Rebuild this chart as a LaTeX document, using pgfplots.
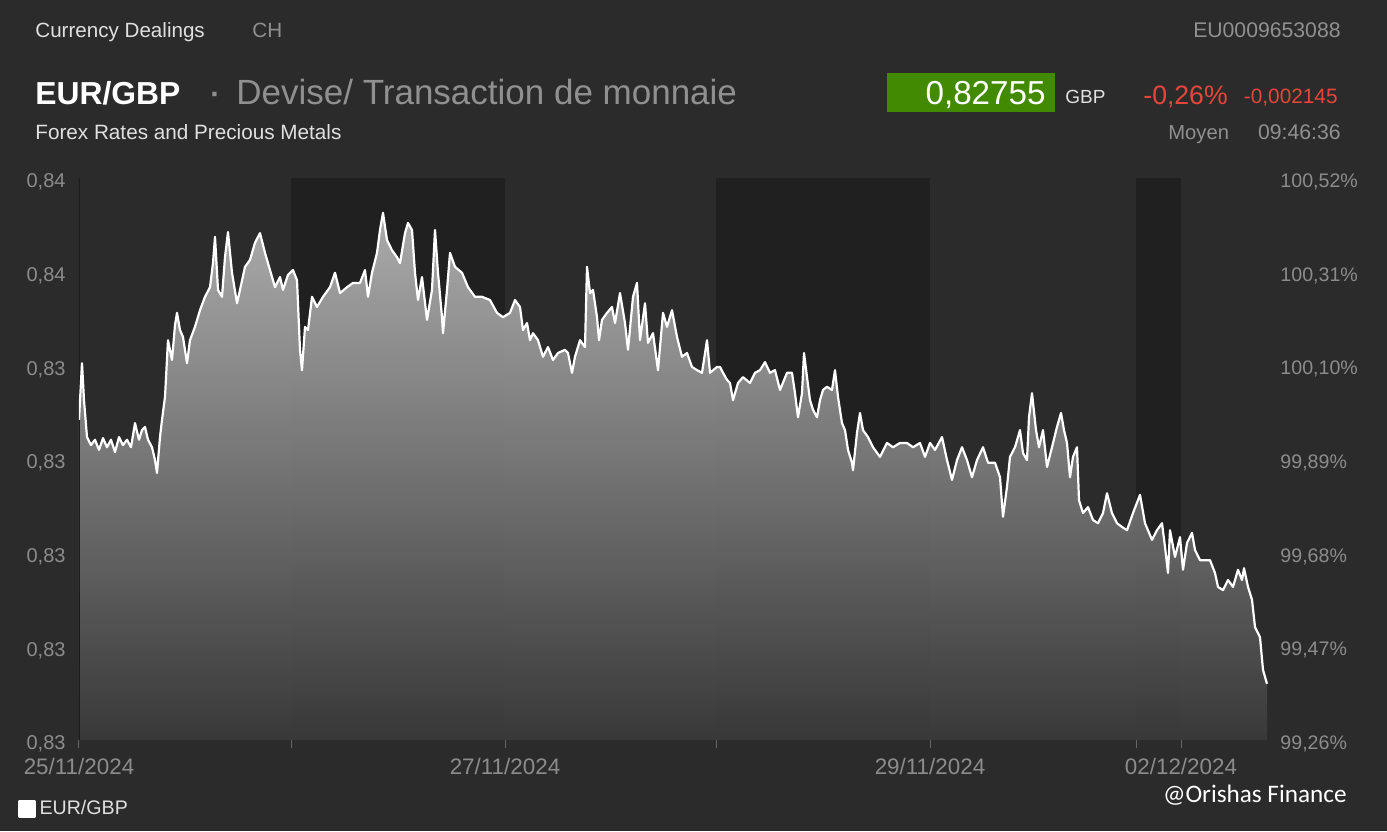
\documentclass[border=0pt]{standalone}
\usepackage{pgfplots}
\pgfplotsset{compat=1.18}
\usepackage{pgfplotstable}
\usepackage{fontspec}
\setmainfont{Liberation Sans}
\newfontfamily\wmfont{Carlito}
\definecolor{bg}{HTML}{2B2B2B}
\definecolor{tickgray}{HTML}{8C8C8C}
\definecolor{lighttext}{HTML}{E0E0E0}
\definecolor{titlegray}{HTML}{909090}
\definecolor{boxgreen}{HTML}{418A02}
\definecolor{downred}{HTML}{E8463A}
\definecolor{fillTop}{HTML}{B6B6B6}
\definecolor{fillMid}{HTML}{7E7E7E}
\definecolor{fillBot}{HTML}{3A3A3A}
\definecolor{axisdark}{HTML}{1C1C1C}
\definecolor{tickmark}{HTML}{666666}

\pgfplotstableread{
t v
0.0000 0.83248
0.0141 0.83354
0.0235 0.83285
0.0376 0.83216
0.0564 0.83201
0.0752 0.83211
0.0940 0.83192
0.1128 0.83214
0.1316 0.83197
0.1504 0.83211
0.1692 0.83188
0.1880 0.83216
0.2068 0.83201
0.2256 0.83211
0.2444 0.83197
0.2632 0.83242
0.2820 0.83211
0.2961 0.83229
0.3102 0.83235
0.3243 0.83211
0.3431 0.83197
0.3572 0.83173
0.3666 0.83149
0.3807 0.83216
0.3901 0.83248
0.4042 0.83291
0.4183 0.83397
0.4371 0.83360
0.4512 0.83425
0.4606 0.83448
0.4747 0.83416
0.4888 0.83403
0.5076 0.83354
0.5217 0.83397
0.5452 0.83422
0.5687 0.83453
0.5922 0.83478
0.6157 0.83496
0.6298 0.83541
0.6392 0.83590
0.6533 0.83491
0.6721 0.83478
0.6862 0.83552
0.7003 0.83599
0.7191 0.83523
0.7426 0.83466
0.7567 0.83491
0.7802 0.83534
0.8037 0.83547
0.8272 0.83579
0.8507 0.83597
0.8742 0.83560
0.8977 0.83528
0.9212 0.83496
0.9447 0.83515
0.9588 0.83491
0.9823 0.83519
1.0058 0.83528
1.0246 0.83509
1.0387 0.83379
1.0481 0.83341
1.0622 0.83422
1.0763 0.83416
1.0951 0.83478
1.1186 0.83459
1.1468 0.83478
1.1797 0.83496
1.2032 0.83523
1.2267 0.83485
1.2596 0.83496
1.2878 0.83504
1.3207 0.83504
1.3442 0.83528
1.3583 0.83478
1.3771 0.83523
1.4006 0.83560
1.4147 0.83603
1.4288 0.83635
1.4476 0.83584
1.4711 0.83565
1.4946 0.83552
1.5087 0.83541
1.5322 0.83597
1.5463 0.83616
1.5651 0.83603
1.5792 0.83523
1.5933 0.83472
1.6121 0.83515
1.6356 0.83435
1.6591 0.83491
1.6732 0.83603
1.6873 0.83523
1.7061 0.83440
1.7108 0.83410
1.7296 0.83491
1.7437 0.83560
1.7672 0.83534
1.8001 0.83523
1.8283 0.83496
1.8612 0.83478
1.8941 0.83478
1.9317 0.83472
1.9646 0.83448
1.9928 0.83440
2.0257 0.83448
2.0492 0.83472
2.0727 0.83459
2.0868 0.83416
2.1056 0.83429
2.1197 0.83397
2.1338 0.83410
2.1573 0.83397
2.1808 0.83366
2.2043 0.83384
2.2278 0.83360
2.2513 0.83373
2.2842 0.83379
2.2983 0.83373
2.3171 0.83336
2.3312 0.83366
2.3547 0.83397
2.3782 0.83384
2.3876 0.83534
2.4017 0.83485
2.4158 0.83491
2.4346 0.83440
2.4440 0.83397
2.4581 0.83435
2.4816 0.83448
2.5051 0.83459
2.5192 0.83429
2.5427 0.83485
2.5662 0.83429
2.5803 0.83379
2.6038 0.83478
2.6226 0.83504
2.6367 0.83397
2.6602 0.83466
2.6743 0.83392
2.6978 0.83410
2.7213 0.83341
2.7448 0.83448
2.7636 0.83422
2.7871 0.83453
2.8106 0.83403
2.8341 0.83366
2.8576 0.83373
2.8811 0.83347
2.9046 0.83341
2.9281 0.83336
2.9516 0.83397
2.9657 0.83336
2.9986 0.83347
3.0127 0.83347
3.0268 0.83336
3.0456 0.83323
3.0597 0.83317
3.0738 0.83285
3.0973 0.83317
3.1208 0.83328
3.1537 0.83317
3.1772 0.83336
3.2007 0.83341
3.2242 0.83356
3.2477 0.83336
3.2712 0.83341
3.2947 0.83304
3.3276 0.83336
3.3511 0.83336
3.3652 0.83298
3.3793 0.83253
3.3981 0.83298
3.4075 0.83373
3.4216 0.83328
3.4357 0.83285
3.4498 0.83267
3.4686 0.83253
3.4827 0.83285
3.4968 0.83304
3.5156 0.83310
3.5391 0.83304
3.5532 0.83341
3.5673 0.83291
3.5861 0.83242
3.6002 0.83229
3.6143 0.83192
3.6331 0.83168
3.6378 0.83154
3.6566 0.83224
3.6707 0.83261
3.6848 0.83229
3.7083 0.83216
3.7318 0.83197
3.7647 0.83179
3.7976 0.83205
3.8258 0.83197
3.8587 0.83205
3.8916 0.83205
3.9198 0.83197
3.9527 0.83205
3.9762 0.83179
3.9997 0.83205
4.0232 0.83192
4.0561 0.83216
4.0796 0.83173
4.1031 0.83136
4.1266 0.83173
4.1501 0.83197
4.1736 0.83173
4.1971 0.83141
4.2206 0.83173
4.2488 0.83197
4.2723 0.83168
4.3052 0.83168
4.3287 0.83141
4.3428 0.83067
4.3616 0.83123
4.3757 0.83179
4.3992 0.83197
4.4227 0.83229
4.4368 0.83186
4.4556 0.83173
4.4650 0.83253
4.4791 0.83298
4.4979 0.83229
4.5120 0.83197
4.5308 0.83229
4.5496 0.83160
4.5731 0.83197
4.5966 0.83235
4.6154 0.83261
4.6295 0.83229
4.6436 0.83205
4.6577 0.83141
4.6718 0.83179
4.6906 0.83197
4.7000 0.83098
4.7188 0.83074
4.7423 0.83085
4.7658 0.83061
4.7893 0.83055
4.8128 0.83074
4.8316 0.83111
4.8551 0.83074
4.8786 0.83055
4.9021 0.83048
4.9256 0.83042
4.9538 0.83074
4.9867 0.83108
5.0102 0.83055
5.0431 0.83024
5.0666 0.83042
5.0901 0.83055
5.1042 0.83011
5.1183 0.82962
5.1277 0.83042
5.1512 0.82992
5.1747 0.83029
5.1888 0.82968
5.2076 0.83018
5.2311 0.83037
5.2452 0.83005
5.2687 0.82986
5.2922 0.82986
5.3157 0.82986
5.3392 0.82962
5.3533 0.82936
5.3768 0.82930
5.4003 0.82949
5.4238 0.82936
5.4473 0.82968
5.4661 0.82949
5.4755 0.82971
5.4943 0.82936
5.5131 0.82912
5.5272 0.82861
5.5507 0.82842
5.5648 0.82781
5.5836 0.82755
}\pricedata

\begin{document}
\begin{tikzpicture}
% page background (1 px = 0.5 pt)
\fill[bg] (0pt,0pt) rectangle (693.5pt,415.5pt);

\begin{axis}[
  at={(39.5pt,45.5pt)}, anchor=south west,
  scale only axis, width=594.5pt, height=281pt,
  xmin=0, xmax=5.5883, ymin=0.8265, ymax=0.837,
  axis line style={draw=none},
  xtick={0,0.9964,2.0022,2.9939,3.9997,4.9679,5.1794},
  xticklabels={25/11/2024,,27/11/2024,,29/11/2024,,02/12/2024},
  xtick pos=bottom, tick align=outside,
  x tick style={tickmark, line width=0.5pt},
  major tick length=4pt,
  ytick={0.8265,0.82825,0.83,0.83175,0.8335,0.83525,0.837},
  yticklabels={{0,83},{0,83},{0,83},{0,83},{0,83},{0,84},{0,84}},
  y tick style={draw=none},
  ytick pos=left,
  tick label style={font=\fontsize{10}{11}\selectfont, text=tickgray},
  yticklabel style={xshift=0.8pt, yshift=-2pt},
  xticklabel style={yshift=-1.5pt, font=\fontsize{11.2}{12}\selectfont},
  legend style={at={(-0.0513,-0.1228)}, anchor=west, draw=none, fill=none,
    inner sep=0pt, text=lighttext, font=\fontsize{9.8}{11}\selectfont,
    legend cell align=left},
  legend image code/.code={\fill[white] (0pt,-3.9pt) rectangle (7.5pt,3.9pt);},
]
% darker day bands
\fill[black, opacity=0.24] (axis cs:0.9964,0.8265) rectangle (axis cs:2.0022,0.837);
\fill[black, opacity=0.24] (axis cs:2.9939,0.8265) rectangle (axis cs:3.9997,0.837);
\fill[black, opacity=0.24] (axis cs:4.9679,0.8265) rectangle (axis cs:5.1794,0.837);
% shaded area under the curve
\addplot[draw=none, forget plot, fill opacity=0.93, top color=fillTop, middle color=fillMid, bottom color=fillBot]
  table[x=t,y=v] {\pricedata} |- (axis cs:0,0.8265) -- cycle;
\draw[axisdark, line width=0.6pt] (axis cs:0,0.8265) -- (axis cs:0,0.837);
% price line
\addplot[white, line width=1.1pt, line join=round] table[x=t,y=v] {\pricedata};
\addlegendentry{EUR/GBP}
\end{axis}

\begin{axis}[
  at={(39.5pt,45.5pt)}, anchor=south west,
  scale only axis, width=594.5pt, height=281pt,
  xmin=0, xmax=5.5883, ymin=0.8265, ymax=0.837,
  axis line style={draw=none},
  xtick=\empty,
  ytick={0.8265,0.82825,0.83,0.83175,0.8335,0.83525,0.837},
  yticklabels={{99,26\%},{99,47\%},{99,68\%},{99,89\%},{100,10\%},{100,31\%},{100,52\%}},
  ytick pos=right, y tick style={draw=none},
  tick label style={font=\fontsize{9.8}{11}\selectfont, text=tickgray},
  yticklabel style={xshift=2.7pt, yshift=-2pt},
]
\end{axis}

% header texts
\node[anchor=base west, inner sep=0pt, text=lighttext, font=\fontsize{10.3}{12}\selectfont] at (17.5pt,396.5pt) {Currency Dealings};
\node[anchor=base west, inner sep=0pt, text=titlegray, font=\fontsize{10.3}{12}\selectfont] at (126pt,396.5pt) {CH};
\node[anchor=base east, inner sep=0pt, text=titlegray, font=\fontsize{10.6}{12}\selectfont] at (670.5pt,396.5pt) {EU0009653088};

\node[anchor=base west, inner sep=0pt, text=white, font=\bfseries\fontsize{15.9}{18}\selectfont] at (17.5pt,363pt) {EUR/GBP};
\node[anchor=base west, inner sep=0pt, text=titlegray, font=\bfseries\fontsize{15}{18}\selectfont] at (105pt,363pt) {·};
\node[anchor=base west, inner sep=0pt, text=titlegray, font=\fontsize{17.5}{20}\selectfont] at (118pt,363pt) {Devise/ Transaction de monnaie};

\fill[boxgreen] (443.5pt,359.5pt) rectangle (527.5pt,379pt);
\node[anchor=base east, inner sep=0pt, text=white, font=\fontsize{16.6}{19}\selectfont] at (523pt,363pt) {0,82755};
\node[anchor=base west, inner sep=0pt, text=lighttext, font=\fontsize{9.5}{11}\selectfont] at (532.5pt,363.5pt) {GBP};
\node[anchor=base west, inner sep=0pt, text=downred, font=\fontsize{13.3}{15}\selectfont] at (571.5pt,363pt) {-0,26\%};
\node[anchor=base east, inner sep=0pt, text=downred, font=\fontsize{10.4}{12}\selectfont] at (669pt,363.5pt) {-0,002145};

\node[anchor=base west, inner sep=0pt, text=lighttext, font=\fontsize{10.35}{12}\selectfont] at (17.5pt,345.5pt) {Forex Rates and Precious Metals};
\node[anchor=base west, inner sep=0pt, text=titlegray, font=\fontsize{10.1}{12}\selectfont] at (584pt,345.5pt) {Moyen};
\node[anchor=base east, inner sep=0pt, text=titlegray, font=\fontsize{10.6}{12}\selectfont] at (670.5pt,345.5pt) {09:46:36};

% watermark
\node[anchor=base east, inner sep=0pt, text=white, font=\wmfont\fontsize{12.6}{14}\selectfont] at (673.5pt,14.5pt) {@Orishas Finance};
\end{tikzpicture}
\end{document}
